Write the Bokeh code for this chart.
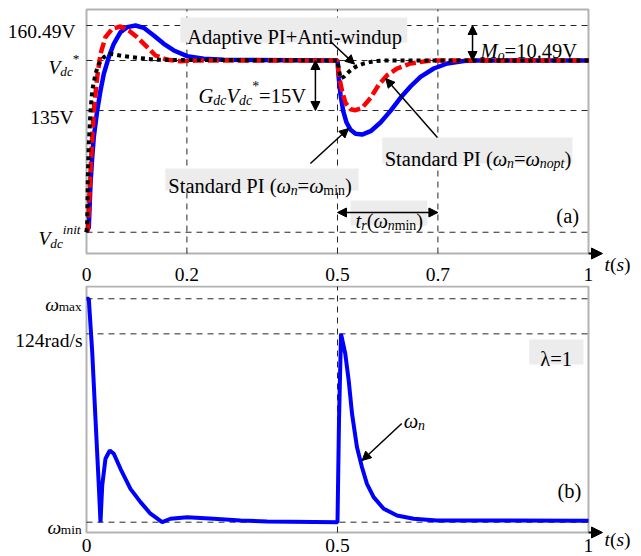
from bokeh.plotting import figure
from bokeh.layouts import column
from bokeh.models import Range1d, Label, Arrow, NormalHead, BoxAnnotation
from bokeh.embed import file_html
from bokeh.resources import INLINE

FONT = "Liberation Serif"

# ---------------- data ----------------
V_INIT = 98.5
V_REF = 150.0
V_SAG = 135.0
V_PEAK = 160.49
W_MIN = 15.0
W_MAX = 144.3
W_124 = 124.0

T_LO, T_HI = 0.0, 1.0            # time axis limits of both panels
VA_LO, VA_HI = 92.12, 165.29     # voltage axis limits, panel (a)
WB_LO, WB_HI = 9.04, 151.4       # omega axis limits, panel (b)

x_ticks_a = [0, 0.2, 0.5, 0.7, 1]
x_tick_labels_a = ["0", "0.2", "0.5", "0.7", "1"]
x_ticks_b = [0, 0.5, 1]
x_tick_labels_b = ["0", "0.5", "1"]
x_grid_a = [0.2, 0.5, 0.7]
x_grid_b = [0.5]
y_grid_a = [V_INIT, V_SAG, V_REF, V_PEAK]
y_grid_b = [W_MIN, W_124, W_MAX]

# Standard PI (wn = wmin)  -- blue solid
t_std_min = [0.0, 0.0046, 0.008, 0.0114, 0.0145, 0.0213, 0.0279, 0.0345, 0.0444, 0.0544,
             0.0677, 0.0811, 0.0976, 0.114, 0.134, 0.154, 0.174, 0.2006, 0.2337, 0.2735,
             0.5, 0.5026, 0.506, 0.5113, 0.518, 0.526, 0.536, 0.549, 0.566, 0.5857,
             0.6056, 0.6255, 0.6454, 0.6653, 0.6918, 0.7185, 0.7516, 0.7715, 1.0]
v_std_min = [98.5, 100.0, 113.1, 121.0, 127.0, 135.0, 141.0, 146.0, 151.0, 155.0,
             158.5, 160.0, 160.49, 159.8, 157.5, 155.0, 153.0, 151.3, 150.5, 150.2,
             150.0, 144.6, 139.8, 134.9, 131.4, 129.2, 128.0, 127.8, 128.8, 131.4,
             134.9, 138.8, 142.2, 145.1, 147.6, 149.1, 149.85, 150.0, 150.0]

# Standard PI (wn = wnopt) -- red dashed
t_std_opt = [0.0, 0.0026, 0.0046, 0.008, 0.0114, 0.0145, 0.0213, 0.0279, 0.0378, 0.0512,
             0.0677, 0.0843, 0.101, 0.121, 0.1375, 0.161, 0.187, 0.2205,
             0.5, 0.5026, 0.5093, 0.516, 0.526, 0.536, 0.549, 0.566, 0.582, 0.599,
             0.619, 0.6454, 0.6787, 0.6986, 1.0]
v_std_opt = [98.5, 99.5, 105.0, 117.0, 127.0, 135.0, 145.0, 152.0, 157.0, 159.5,
             160.2, 159.0, 157.0, 154.0, 151.5, 150.2, 149.8, 150.0,
             150.0, 145.6, 140.7, 137.3, 135.4, 135.1, 135.8, 138.8, 142.7, 145.6,
             147.6, 149.1, 149.85, 150.0, 150.0]

# Adaptive PI + Anti-windup -- black dotted
t_adapt = [0.0, 0.0014, 0.0026, 0.0046, 0.008, 0.0114, 0.0179, 0.0245, 0.0345, 0.0478,
           0.0743, 0.1076, 0.141, 0.5, 0.5026, 0.506, 0.5126, 0.5225, 0.5359, 0.5524,
           0.5723, 0.5922, 1.0]
v_adapt = [98.5, 101.0, 115.0, 125.0, 135.0, 141.0, 146.0, 149.0, 151.0, 152.0,
           151.3, 150.7, 150.2, 150.0, 147.6, 144.6, 145.1, 146.6, 148.1, 149.1,
           149.8, 150.0, 150.0]

# omega_n (panel b)
t_wn = [0.0, 0.0046, 0.0114, 0.0179, 0.0245, 0.0279, 0.0313, 0.0378, 0.0464, 0.0544,
        0.0677, 0.0876, 0.1076, 0.1275, 0.1508, 0.1673, 0.2006, 0.2536, 0.3068, 0.36,
        0.5, 0.503, 0.507, 0.5155, 0.5223, 0.529, 0.5388, 0.5488, 0.5587, 0.572,
        0.592, 0.6185, 0.6517, 0.698, 0.798, 1.0]
w_n = [144.3, 144.3, 113.4, 74.8, 36.2, 15.0, 36.2, 51.7, 56.5, 54.6,
       45.9, 34.3, 26.6, 19.9, 15.0, 17.0, 17.9, 17.0, 16.0, 15.4,
       15.0, 73.9, 124.0, 112.5, 97.0, 77.7, 58.4, 46.8, 37.2, 29.5,
       22.8, 18.9, 17.0, 16.0, 16.0, 15.8]

# ---------------- rich text helper ----------------
W_REG = {' ': .25, '(': .333, ')': .333, '*': .5, '+': .564, '-': .333, '.': .25, '/': .278,
         '=': .564, 'A': .722, 'G': .722, 'I': .333, 'M': .889, 'P': .556, 'S': .556, 'V': .722,
         'a': .444, 'b': .5, 'c': .444, 'd': .5, 'e': .444, 'i': .278, 'l': .278, 'm': .778,
         'n': .5, 'o': .5, 'p': .5, 'r': .333, 's': .389, 't': .278, 'u': .5, 'v': .5,
         'w': .722, 'x': .5, 'λ': .55, 'ω': .69}
for _d in "0123456789":
    W_REG[_d] = .5
W_IT = {'G': .722, 'M': .833, 'V': .611, 'c': .444, 'd': .5, 'i': .278, 'n': .5, 'o': .5,
        'p': .5, 'r': .389, 's': .389, 't': .278, 'ω': .69}

N = (1.0, 0.0)
SUB = (0.68, -0.22)
SUP = (0.68, 0.45)


def tw(s, italic, size):
    tbl = W_IT if italic else W_REG
    return sum(tbl.get(ch, W_REG.get(ch, 0.5)) for ch in s) * size


def rich(p, x, y, parts, size=20.5, align="left", dx=0.0, dy=0.0):
    """parts: list of (text, italic, (scale, rise)); baseline at (x, y) + offsets"""
    widths = [tw(t, it, size * sr[0]) for t, it, sr in parts]
    total = sum(widths)
    off = dx - (total if align == "right" else total / 2 if align == "center" else 0)
    for (t, it, sr), w in zip(parts, widths):
        p.add_layout(Label(x=x, y=y, x_offset=off, y_offset=dy + sr[1] * size, text=t,
                           text_font=FONT, text_font_style="italic" if it else "normal",
                           text_font_size=f"{size * sr[0]:.1f}px", text_color="black",
                           text_baseline="alphabetic", text_align="left"))
        off += w


def make_fig(height, y_lo, y_hi):
    p = figure(width=641, height=height, x_range=Range1d(-0.171315, 1.105578),
               y_range=Range1d(y_lo, y_hi), output_backend="svg", toolbar_location=None,
               x_axis_location=None, y_axis_location=None, min_border=0)
    p.outline_line_color = None
    p.grid.visible = False
    p.background_fill_color = "white"
    p.border_fill_color = "white"
    return p


def grid(p, xs, ys, lo, hi):
    kw = dict(line_color="black", line_dash="6 5", line_width=1, line_alpha=0.85)
    p.segment(x0=xs, x1=xs, y0=[lo] * len(xs), y1=[hi] * len(xs), **kw)
    p.segment(x0=[T_LO] * len(ys), x1=[T_HI] * len(ys), y0=ys, y1=ys, **kw)


def frame(p, lo, hi):
    p.add_layout(BoxAnnotation(left=T_LO, right=T_HI, bottom=lo, top=hi, fill_alpha=0,
                               line_color="black", line_width=2))


def box(p, l, r, t, b):
    p.add_layout(BoxAnnotation(left=l, right=r, top=t, bottom=b, fill_color="#ececec",
                               fill_alpha=1, line_color=None))


def arrow(p, x0, y0, x1, y1, both=False, size=9, width=1.5):
    head = lambda: NormalHead(size=size, fill_color="black", line_color="black")
    p.add_layout(Arrow(x_start=x0, y_start=y0, x_end=x1, y_end=y1, end=head(),
                       start=head() if both else None, line_color="black", line_width=width))


TS = [("t", True, N), ("(", False, N), ("s", True, N), (")", False, N)]

# ---------------- panel (a) ----------------
p1 = make_fig(285, 82.53, 167.99)
grid(p1, x_grid_a, y_grid_a, VA_LO, VA_HI)

p1.line(t_std_min, v_std_min, line_color="#0000ff", line_width=4.5)
p1.line(t_std_opt, v_std_opt, line_color="#ff0000", line_width=4.5, line_dash="11 4")
p1.line(t_adapt, v_adapt, line_color="black", line_width=4, line_dash="4 4")

frame(p1, VA_LO, VA_HI)

for xt, lab in zip(x_ticks_a, x_tick_labels_a):
    rich(p1, xt, VA_LO, [(lab, False, N)], size=19.5, align="center", dy=-21)
rich(p1, T_LO, V_PEAK, [("160.49V", False, N)], size=19.5, align="right", dx=-11, dy=-6)
rich(p1, T_LO, V_SAG, [("135V", False, N)], size=19.5, align="right", dx=-13, dy=-7)
rich(p1, T_LO, V_REF, [("V", True, N), ("dc", True, SUB), ("*", False, SUP)], size=19.5,
     align="right", dx=-7, dy=-7)
rich(p1, T_LO, V_INIT, [("V", True, N), ("dc", True, SUB), ("init", True, SUP)], size=19.5,
     align="right", dx=-6, dy=-6.5)

# annotation boxes
box(p1, 0.187, 0.639, 162.9, 155.4)
box(p1, 0.157, 0.542, 117.61, 111.02)
box(p1, 0.589, 0.968, 126.91, 119.11)
box(p1, 0.526, 0.679, 108.02, 100.52)

rich(p1, 0.2006, 157.19, [("Adaptive PI+Anti-windup", False, N)])
rich(p1, 0.2231, 139.5, [("G", True, N), ("dc", True, SUB), ("V", True, N), ("dc", True, SUB),
                         ("*", False, SUP), ("=15V", False, N)])
rich(p1, 0.785, 152.99, [("M", True, N), ("o", True, SUB), ("=10.49V", False, N)])
rich(p1, 0.163, 112.51, [("Standard PI (", False, N), ("ω", True, N), ("n", True, SUB),
                         ("=", False, N), ("ω", True, N), ("min", False, SUB), (")", False, N)])
rich(p1, 0.594, 120.61, [("Standard PI (", False, N), ("ω", True, N), ("n", True, SUB),
                         ("=", False, N), ("ω", True, N), ("nopt", True, SUB), (")", False, N)])
rich(p1, 0.536, 102.02, [("t", True, N), ("r", True, SUB), ("(", False, N), ("ω", True, N),
                         ("n", True, SUB), ("min", False, SUB), (")", False, N)])
rich(p1, 0.936, 103.52, [("(a)", False, N)])
rich(p1, 1.0319, 88.8, TS, size=19.5)

arrow(p1, 0.486, 155.7, 0.534, 148.9)
arrow(p1, 0.456, V_REF, 0.456, V_SAG, both=True)
arrow(p1, 0.769, V_PEAK, 0.769, V_REF, both=True)
arrow(p1, 0.446, 119.11, 0.522, 129.6)
arrow(p1, 0.699, 126.9, 0.596, 144.6)
arrow(p1, 0.5, 104.42, 0.7, 104.42, both=True)
arrow(p1, T_HI, VA_LO, 1.0279, VA_LO, size=11, width=2)

# ---------------- panel (b) ----------------
p2 = make_fig(271, -4.85, 151.98)
grid(p2, x_grid_b, y_grid_b, WB_LO, WB_HI)

p2.line(t_wn, w_n, line_color="#0000ff", line_width=4)

frame(p2, WB_LO, WB_HI)

for xt, lab in zip(x_ticks_b, x_tick_labels_b):
    rich(p2, xt, WB_LO, [(lab, False, N)], size=19.5, align="center", dy=-13)
rich(p2, T_LO, W_124, [("124rad/s", False, N)], size=19.5, align="right", dx=-4, dy=-6.5)
rich(p2, T_LO, W_MAX, [("ω", True, N), ("max", False, (0.68, -0.1))], size=19.5,
     align="right", dx=-5, dy=-6)
rich(p2, T_LO, W_MIN, [("ω", True, N), ("min", False, (0.68, -0.1))], size=19.5,
     align="right", dx=-5, dy=-5)

box(p2, 0.882, 0.990, 120.73, 106.26)
rich(p2, 0.904, 109.73, [("λ=1", False, N)])
rich(p2, 0.632, 73.85, [("ω", True, N), ("n", True, SUB)])
rich(p2, 0.938, 33.3, [("(b)", False, N)])
rich(p2, 1.0319, 5.0, TS, size=19.5)
arrow(p2, 0.628, 72.1, 0.549, 50.7)
arrow(p2, T_HI, WB_LO, 1.0279, WB_LO, size=11, width=2)

layout = column(p1, p2, spacing=0)
open("out.html", "w").write(file_html(layout, INLINE))
